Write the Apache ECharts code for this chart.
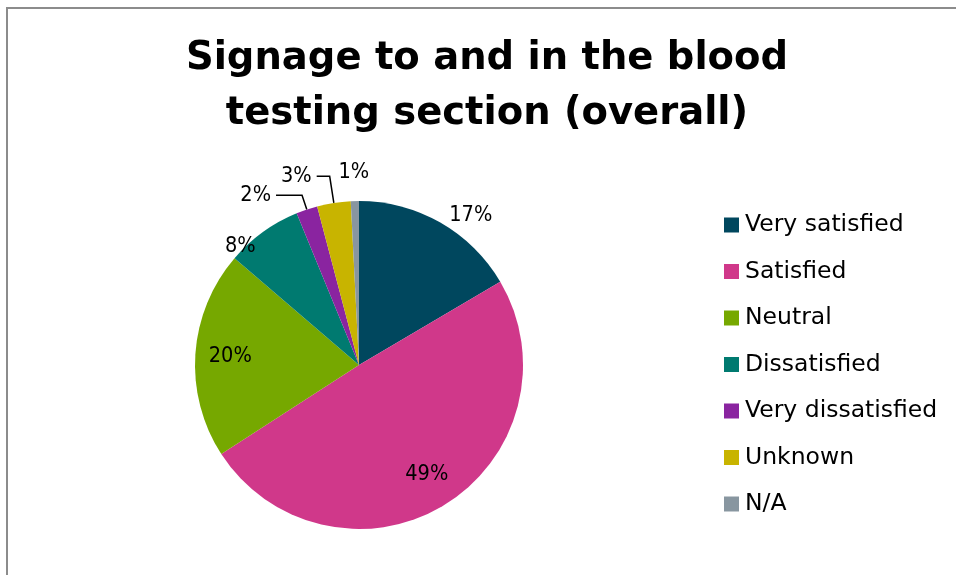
<!DOCTYPE html>
<html>
<head>
<meta charset="utf-8">
<script src="https://cdn.jsdelivr.net/npm/echarts@6/dist/echarts.min.js"></script>
<style>
html, body { margin: 0; padding: 0; background: #fff; }
#graphContainer { width: 956px; height: 575px; }
</style>
</head>
<body>
<div id="graphContainer"></div>
<script>
// answers, in pie order (clockwise from 12 o'clock)
var categories = ['Very satisfied', 'Satisfied', 'Neutral', 'Dissatisfied', 'Very dissatisfied', 'Unknown', 'N/A'];
var shares = [16.5, 49.3, 20.4, 7.5, 2.1, 3.3, 0.8];
var colors = ['#00475e', '#d0388a', '#76a800', '#007a70', '#8a24a0', '#c8b400', '#8896a0'];
// where excel put each label: inside the slice or outside it
var labelPlaces = ['outside', 'inside', 'inside', 'outside', 'outside', 'outside', 'outside'];

var titleText = 'Signage to and in the blood\ntesting section (overall)';
var titleFont = 'DejaVu Sans, sans-serif';
var legendFont = 'DejaVu Sans, sans-serif';
var labelFont = 'DejaVu Sans Condensed, sans-serif';

var pieData = [];
var labelData = [];
for (var i = 0; i < categories.length; i++) {
	pieData.push({
		name: categories[i],
		value: shares[i],
		itemStyle: { color: colors[i] },
		label: { show: labelPlaces[i] == 'outside', position: 'outside' },
		labelLine: { show: false }
	});
	labelData.push({
		name: categories[i],
		value: shares[i],
		label: { show: labelPlaces[i] == 'inside' }
	});
}
// leader lines / distances for the outside labels
pieData[0].labelLine = { show: false, length: 8, length2: 0 };
pieData[3].labelLine = { show: false, length: 4, length2: 0 };
pieData[4].labelLine = { show: true, length: 15, length2: 26 };
pieData[5].labelLine = { show: true, length: 27, length2: 13 };
pieData[6].labelLine = { show: false, length: 29, length2: 0 };

function pctText(p) {
	return Math.round(p.value) + '%';
}

var dom = document.getElementById('graphContainer');
var myEChart = echarts.init(dom, null, { renderer: 'canvas' });

var option = {
	animation: false,
	title: {
		text: titleText,
		left: 487,
		top: 31,
		padding: 0,
		textAlign: 'center',
		textStyle: {
			fontFamily: titleFont,
			fontWeight: 'bold',
			fontSize: 38.5,
			lineHeight: 55,
			color: '#000'
		}
	},
	legend: {
		orient: 'vertical',
		left: 724,
		top: 213,
		padding: 0,
		itemWidth: 15,
		itemHeight: 15,
		itemGap: 22.5,
		icon: 'rect',
		data: categories,
		textStyle: {
			fontFamily: legendFont,
			fontSize: 23.5,
			lineHeight: 24,
			color: '#000',
			padding: [0, 0, 0, 1]
		}
	},
	graphic: [
		{ type: 'line', shape: { x1: 6, y1: 8, x2: 956, y2: 8 }, style: { stroke: '#8c8c8c', lineWidth: 2 } },
		{ type: 'line', shape: { x1: 7, y1: 8, x2: 7, y2: 575 }, style: { stroke: '#8c8c8c', lineWidth: 2 } }
	],
	series: [
		{
			type: 'pie',
			center: [359, 365],
			radius: [0, 164],
			startAngle: 90,
			clockwise: true,
			avoidLabelOverlap: false,
			label: {
				fontFamily: labelFont,
				fontSize: 21.5,
				color: '#000',
				formatter: pctText
			},
			labelLine: { lineStyle: { color: '#000', width: 1.5 } },
			// excel nudged two labels off the slice's mid-angle
			labelLayout: function (params) {
				if (params.dataIndex == 3) return { dy: 18 };
				if (params.dataIndex == 6) return { dx: 20 };
				return {};
			},
			data: pieData
		},
		{
			// invisible larger pie, only to push the inside labels out towards the rim
			type: 'pie',
			center: [359, 365],
			radius: [0, 252],
			startAngle: 90,
			clockwise: true,
			silent: true,
			itemStyle: { color: 'rgba(0,0,0,0)' },
			label: {
				position: 'inside',
				fontFamily: labelFont,
				fontSize: 21.5,
				color: '#000',
				formatter: pctText
			},
			labelLine: { show: false },
			data: labelData
		}
	]
};
myEChart.setOption(option);
window.addEventListener('resize', myEChart.resize);
</script>
</body>
</html>
